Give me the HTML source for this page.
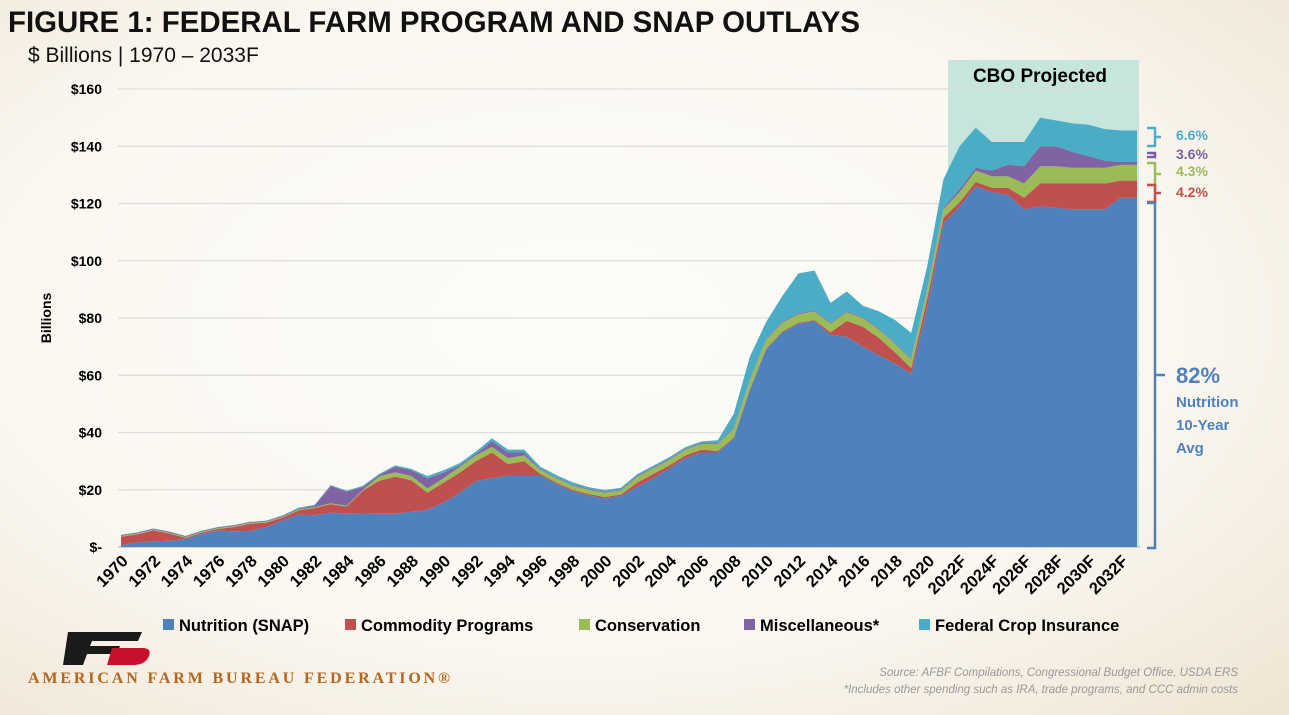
<!DOCTYPE html>
<html><head><meta charset="utf-8"><style>
body{margin:0;width:1289px;height:715px;overflow:hidden;font-family:"Liberation Sans",sans-serif;background:radial-gradient(ellipse at 45% 45%,#fdfcf9 0%,#faf7f0 60%,#efe4d2 100%);}
svg{position:absolute;left:0;top:0}
</style></head><body>
<svg id="c" width="1289" height="715">
<text x="8" y="32" font-size="30" font-weight="bold" fill="#111" textLength="852" lengthAdjust="spacingAndGlyphs">FIGURE 1: FEDERAL FARM PROGRAM AND SNAP OUTLAYS</text>
<text x="28" y="62" font-size="21" fill="#111">$ Billions | 1970 – 2033F</text>
<text transform="translate(51,318) rotate(-90)" text-anchor="middle" font-size="14" font-weight="bold">Billions</text>
<rect x="948" y="60" width="191" height="487" fill="#c5e5dd"/>
<text x="1040" y="82" text-anchor="middle" font-size="19" font-weight="bold">CBO Projected</text>
<g id="grid"></g><g id="areas"></g><g id="xt"></g>
<g fill="none" stroke-width="2.5">
<path d="M1147,128 h8 v18 h-8 M1155,137 h6" stroke="#4aaecb"/>
<path d="M1147,153 h8 v4 h-8" stroke="#7b5ea7"/>
<path d="M1147,163 h8 v22 h-8 M1155,174 h6" stroke="#9bbb59"/>
<path d="M1147,185 h8 v17 h-8 M1155,193 h6" stroke="#c0504d"/>
<path d="M1147,203 h8 v345 h-8 M1155,375 h10" stroke="#4f81bd"/>
</g>
<g font-weight="bold" font-size="14">
<text x="1176" y="140" fill="#4aaecb">6.6%</text>
<text x="1176" y="159" fill="#7b5ea7">3.6%</text>
<text x="1176" y="176" fill="#9bbb59">4.3%</text>
<text x="1176" y="197" fill="#c0504d">4.2%</text>
<text x="1176" y="383" fill="#4f81bd" font-size="22">82%</text>
<text x="1176" y="407" fill="#4f81bd" font-size="15"><tspan x="1176">Nutrition</tspan><tspan x="1176" dy="23">10-Year</tspan><tspan x="1176" dy="23">Avg</tspan></text>
</g>
<g id="legend" font-size="16.5" font-weight="bold"></g>
<g>
<path d="M68,632 h74 l-4,9 h-46 l-2,5 h30 l-3,8 h-30 l-4,11 h-20 z" fill="#1a1a1a"/>
<path d="M112,648 h30 q10,0 7,8 q-3,8 -14,9 h-28 z" fill="#c8102e"/>
<text x="28" y="683" font-family="Liberation Serif,serif" font-size="16" font-weight="bold" fill="#b5651d" textLength="422" lengthAdjust="spacing">AMERICAN FARM BUREAU FEDERATION®</text>
</g>
<text x="1238" y="676" text-anchor="end" font-size="11.5" font-style="italic" fill="#999">Source: AFBF Compilations, Congressional Budget Office, USDA ERS</text>
<text x="1238" y="693" text-anchor="end" font-size="11.5" font-style="italic" fill="#999">*Includes other spending such as IRA, trade programs, and CCC admin costs</text>
</svg>
<script>
const years=[];for(let y=1970;y<=2033;y++)years.push(y<=2021?String(y):y+"F");
const snap=[0.6,1.6,2,2.2,2.8,4.6,5.7,5.5,5.6,6.9,9.2,11.3,11.1,12,11.6,11.7,11.6,11.6,12.3,13,15.5,19,23,24,25,25,25,22,19.5,18,17,17.8,21,24,27.5,31,33,33,38,55,69,75,78,79,74,73.5,70,67,64,60.5,84,113,119,126,124,123,118,119,118.5,118,118,118,122,122];
const commodity=[3,2.8,3.8,2.5,0.4,0.4,0.6,1.5,2.5,1.6,1,1.5,2.5,3,2.5,8,11.5,13,11,6,7,7,7,9,4,5,0.5,0.5,0.5,0.5,0.5,0.5,1.5,1.5,1,1,1,0.5,0.3,0.3,0.3,0.3,0.3,0.3,1,5.5,7,6,4,2,3,2,1.5,1.5,1.5,2.5,4,8,8.5,9,9,9,6,6];
const conservation=[0.3,0.3,0.3,0.3,0.3,0.3,0.3,0.3,0.3,0.3,0.3,0.3,0.3,0.3,0.3,0.3,1.5,1.5,1.5,1.5,1.5,2,2,2,2,2,1.5,1.5,1.5,1.5,1.5,1.5,2,2,2,2,2,2.5,3,3,3,3,3,3,3,3,3,3,3,3,3,3,3.5,4,4,4,5,6,6,5.5,5.5,5.5,5.5,5.5];
const misc=[0.3,0.3,0.3,0.3,0.3,0.3,0.3,0.3,0.3,0.3,0.3,0.3,0.5,6,5,1,0.5,2,2,3.5,2,0.5,0.5,2,2,1,0.3,0.3,0.3,0.3,0.3,0.3,0.3,0.3,0.3,0.3,0.3,0.3,0.3,0.3,0.3,0.3,0.3,0.3,0.3,0.3,0.3,0.3,0.3,0.3,0.3,0.5,1,1,2,4,6,7,7,5.5,4,2.5,1,1];
const cropIns=[0.1,0.1,0.1,0.1,0.1,0.1,0.1,0.1,0.1,0.1,0.2,0.3,0.3,0.3,0.3,0.4,0.4,0.4,0.5,0.8,0.8,0.8,0.8,1,1,1,0.8,0.8,0.8,0.6,0.6,0.6,0.6,0.6,0.6,0.6,0.6,1,5,8,6,9,14,14,7,7,4,6,8,9,8,10,15,14,10,8,8.5,10,9,10,11,11,11,11];
const yTicks=[0,20,40,60,80,100,120,140,160];
const seriesNames=["Nutrition (SNAP)","Commodity Programs","Conservation","Miscellaneous*","Federal Crop Insurance"];
const colors=["#4f81bd","#c0504d","#9bbb59","#8064a2","#4bacc6"];
const X=i=>121+i*(1137-121)/(years.length-1);
const Y=v=>547-v*(547-89)/160;
const NS="http://www.w3.org/2000/svg";
function mk(t,a,p){const e=document.createElementNS(NS,t);for(const k in a)e.setAttribute(k,a[k]);p.appendChild(e);return e;}
const grid=document.getElementById('grid');
yTicks.forEach(v=>{
 const l=mk('line',{x1:118,x2:1140,y1:Y(v),y2:Y(v),stroke:v?'#ddd':'#bbb','stroke-width':1.3},grid);
 
 
 const t=mk('text',{x:102,y:Y(v)+5,'text-anchor':'end','font-size':14,'font-weight':'bold'},grid);
 t.textContent=v?'$'+v:'$-';
 
 
});
const series=[snap,commodity,conservation,misc,cropIns];
const areas=document.getElementById('areas');
let base=years.map(()=>0);
series.forEach((s,k)=>{
 const top=base.map((b,i)=>b+s[i]);
 let d='M'+top.map((v,i)=>X(i)+','+Y(v)).join(' L');
 for(let i=years.length-1;i>=0;i--)d+=' L'+X(i)+','+Y(base[i]);
 const p=mk('path',{d:d+'Z',fill:colors[k]},areas);
 
 
 base=top;
});
const xt=document.getElementById('xt');
years.forEach((y,i)=>{if(i%2)return;
 const t=mk('text',{transform:`translate(${X(i)+8},${562}) rotate(-45)`,'text-anchor':'end','font-size':16.5,'font-weight':'bold'},xt);
 t.textContent=y;
 
 
});
const lg=document.getElementById('legend');
const lx=[163,345,579,744,919];
seriesNames.forEach((n,k)=>{
 const g=mk('g',{},lg);
 
 
 mk('rect',{x:lx[k],y:619,width:11,height:11,fill:colors[k]},g);
 const t=mk('text',{x:lx[k]+16,y:631},g);t.textContent=n;
});
</script>
</body></html>
